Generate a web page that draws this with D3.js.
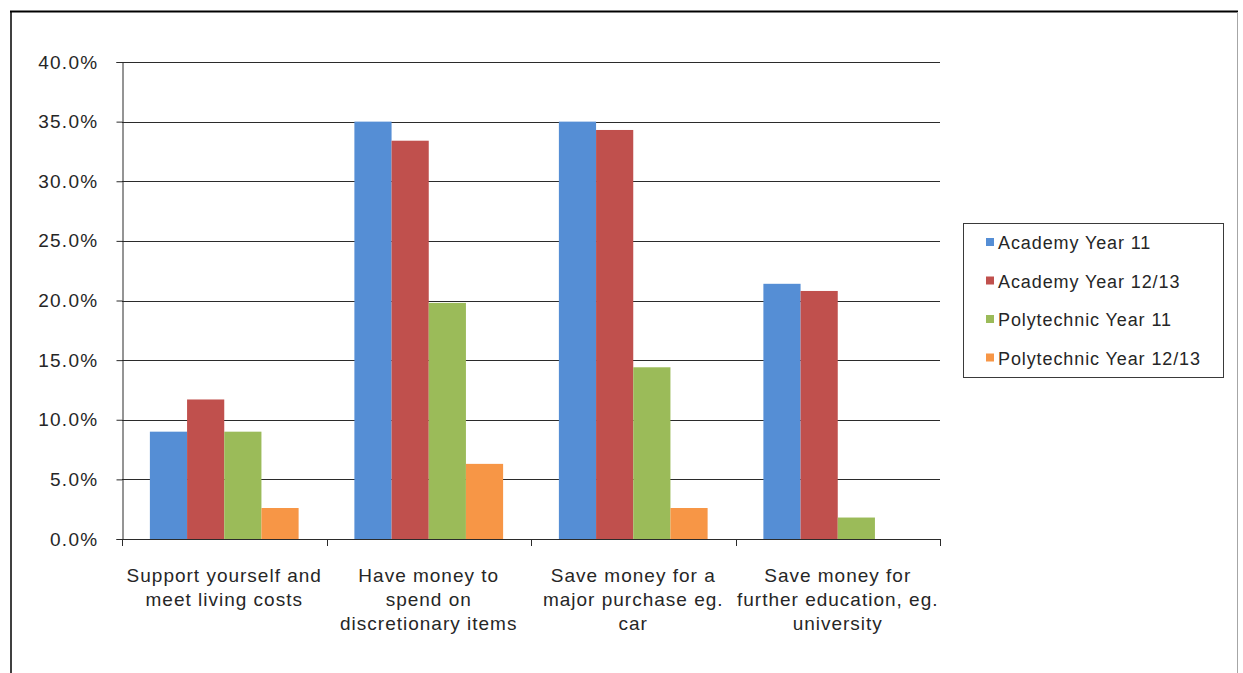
<!DOCTYPE html>
<html>
<head>
<meta charset="utf-8">
<script src="https://cdn.jsdelivr.net/npm/d3@7"></script>
<style>
    body { margin: 0; background: #fff; }
    text { font-family: "Liberation Sans", Arial, sans-serif; fill: #262626; }
</style>
</head>
<body>
<div id="chart"></div>
<script>
// categories and series
var categories = [
    ["Support yourself and", "meet living costs"],
    ["Have money to", "spend on", "discretionary items"],
    ["Save money for a", "major purchase eg.", "car"],
    ["Save money for", "further education, eg.", "university"]
];
var seriesNames = ["Academy Year 11", "Academy Year 12/13", "Polytechnic Year 11", "Polytechnic Year 12/13"];
var seriesColors = ["#558ed5", "#c0504d", "#9bbb59", "#f79646"];
var academy11 = [9.0, 35.0, 35.0, 21.4];
var academy1213 = [11.7, 33.4, 34.3, 20.8];
var poly11 = [9.0, 19.8, 14.4, 1.8];
var poly1213 = [2.6, 6.3, 2.6, 0];
var yTicks = [0, 5, 10, 15, 20, 25, 30, 35, 40];

var series = [academy11, academy1213, poly11, poly1213];

var width = 1243, height = 673;
var plot = {left: 122, right: 940, top: 62, bottom: 539};

var svg = d3.select("#chart").append("svg")
    .attr("width", width)
    .attr("height", height);

// outer frame
svg.append("line").attr("x1", 11).attr("x2", 11).attr("y1", 11).attr("y2", height)
    .attr("stroke", "#000").attr("stroke-width", 1.5);
svg.append("line").attr("x1", 10).attr("x2", 1238).attr("y1", 11.5).attr("y2", 11.5)
    .attr("stroke", "#000").attr("stroke-width", 2);
svg.append("line").attr("x1", 1237.5).attr("x2", 1237.5).attr("y1", 12).attr("y2", height)
    .attr("stroke", "#a6a6a6").attr("stroke-width", 1);

var y = d3.scaleLinear().domain([0, 40]).range([plot.bottom, plot.top]);
var x0 = d3.scaleBand().domain(d3.range(categories.length))
    .range([plot.left, plot.right]).paddingInner(0).paddingOuter(0);
// gap width 150% -> 0.75 of a bar on each side of the cluster
var x1 = d3.scaleBand().domain(d3.range(series.length))
    .range([0, x0.bandwidth()]).paddingOuter(0.75).paddingInner(0);

// gridlines
svg.append("g").selectAll("line")
    .data(yTicks.slice(1))
    .enter().append("line")
    .attr("x1", plot.left).attr("x2", plot.right)
    .attr("y1", function(d) { return Math.round(y(d)) + 0.5; })
    .attr("y2", function(d) { return Math.round(y(d)) + 0.5; })
    .attr("stroke", "#2b2b2b").attr("stroke-width", 1);

// bars
var groups = svg.append("g").selectAll("g")
    .data(categories)
    .enter().append("g")
    .attr("transform", function(d, i) { return "translate(" + x0(i) + ",0)"; });

groups.selectAll("rect")
    .data(function(d, i) { return series.map(function(s, j) { return {j: j, v: s[i]}; }); })
    .enter().append("rect")
    .attr("x", function(d) { return x1(d.j); })
    .attr("width", x1.bandwidth())
    .attr("y", function(d) { return y(d.v); })
    .attr("height", function(d) { return y(0) - y(d.v); })
    .attr("fill", function(d) { return seriesColors[d.j]; });

// y axis
var yAxis = d3.axisLeft(y).tickValues(yTicks).tickSize(6).tickPadding(18)
    .tickFormat(function(d) { return d.toFixed(1) + "%"; });
var yg = svg.append("g")
    .attr("transform", "translate(" + (plot.left + 0.5) + ",0)")
    .call(yAxis);
yg.select(".domain").attr("stroke", "#2b2b2b");
yg.selectAll(".tick line").attr("stroke", "#2b2b2b");
yg.selectAll(".tick text")
    .style("font-size", "19px")
    .style("letter-spacing", "1.3px")
    .attr("fill", "#262626");

// x axis line and category ticks
svg.append("line")
    .attr("x1", plot.left).attr("x2", plot.right)
    .attr("y1", plot.bottom + 0.5).attr("y2", plot.bottom + 0.5)
    .attr("stroke", "#2b2b2b");
svg.append("g").selectAll("line")
    .data(d3.range(categories.length + 1))
    .enter().append("line")
    .attr("x1", function(d) { return Math.round(plot.left + d * x0.bandwidth()) + 0.5; })
    .attr("x2", function(d) { return Math.round(plot.left + d * x0.bandwidth()) + 0.5; })
    .attr("y1", plot.bottom).attr("y2", plot.bottom + 7)
    .attr("stroke", "#2b2b2b");

// category labels
var labels = svg.append("g").selectAll("text")
    .data(categories)
    .enter().append("text")
    .attr("text-anchor", "middle")
    .style("font-size", "19px")
    .style("letter-spacing", "1px")
    .attr("y", 582);
labels.selectAll("tspan")
    .data(function(d, i) { return d.map(function(t) { return {t: t, i: i}; }); })
    .enter().append("tspan")
    .attr("x", function(d) { return x0(d.i) + x0.bandwidth() / 2; })
    .attr("dy", function(d, k) { return k === 0 ? 0 : 24; })
    .text(function(d) { return d.t; });

// legend
var legend = svg.append("g").attr("transform", "translate(963,223)");
legend.append("rect")
    .attr("x", 0.5).attr("y", 0.5)
    .attr("width", 260).attr("height", 154)
    .attr("fill", "#fff").attr("stroke", "#3a3a3a").attr("stroke-width", 1);

var item = legend.selectAll(".item")
    .data(seriesNames)
    .enter().append("g")
    .attr("class", "item")
    .attr("transform", function(d, i) { return "translate(0," + (20 + i * 38.5) + ")"; });
item.append("rect")
    .attr("x", 23).attr("y", -5)
    .attr("width", 8).attr("height", 8)
    .attr("fill", function(d, i) { return seriesColors[i]; });
item.append("text")
    .attr("x", 35).attr("y", 6)
    .style("font-size", "18px")
    .style("letter-spacing", "0.9px")
    .text(function(d) { return d; });
</script>
</body>
</html>
